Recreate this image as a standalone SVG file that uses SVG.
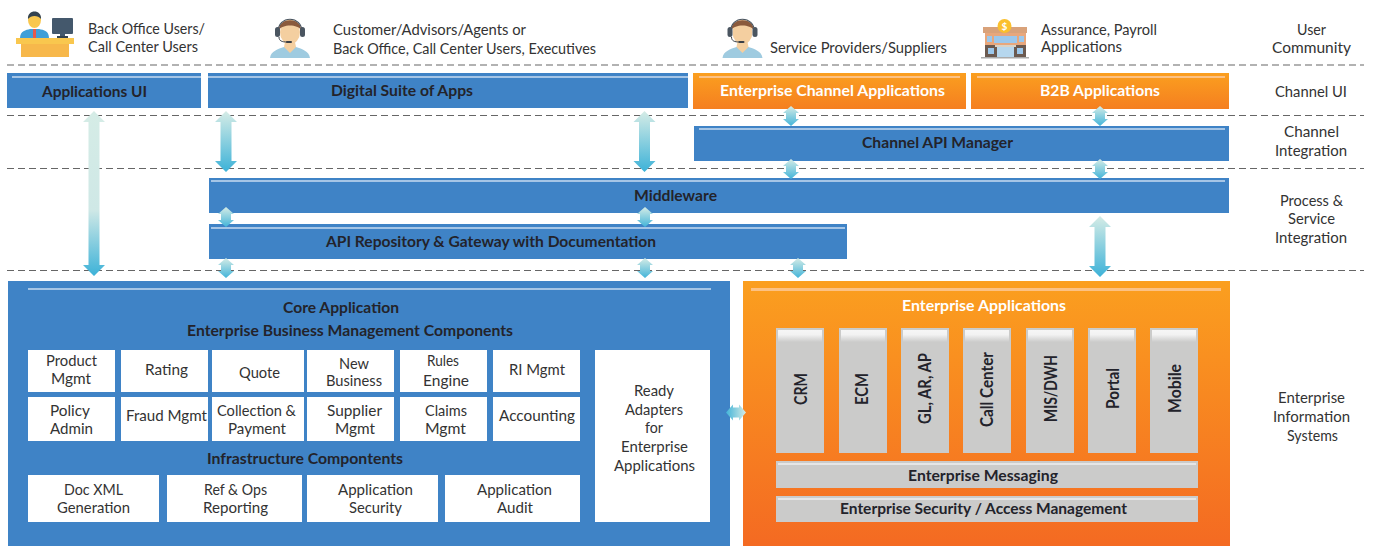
<svg xmlns="http://www.w3.org/2000/svg" width="1374" height="555" viewBox="0 0 1374 555">
<style>
text{font-family:Lato,"Open Sans","Liberation Sans",sans-serif}
.r{font-size:15px;fill:#333}
.b{font-size:15px;font-weight:700;fill:#23232b}
.v{font-size:16.5px;font-weight:700;fill:#23232b}
.w{font-size:15px;font-weight:700;fill:#fff}
.blue{fill:#3f83c6}
.org{fill:url(#og)}
.orgb{fill:url(#ogb)}
.hb{fill:#a5c5e6}
.ho{fill:#fcc183}
.box{fill:#fff}
.gray{fill:#cbcbca}
.gh{fill:url(#gh)}
.dash{stroke:#666;stroke-width:1.2;stroke-dasharray:7 4;fill:none}
.big{fill:url(#ab)}
.mid{fill:url(#am)}
.sm{fill:url(#as)}
</style>
<defs>
<linearGradient id="og" x1="0" y1="0" x2="0" y2="1"><stop offset="0" stop-color="#fb9f1f"/><stop offset="1" stop-color="#f57f20"/></linearGradient>
<linearGradient id="ogb" x1="0" y1="0" x2="0" y2="1"><stop offset="0" stop-color="#fb9f1f"/><stop offset="1" stop-color="#f46a22"/></linearGradient>
<linearGradient id="gh" x1="0" y1="0" x2="0" y2="1"><stop offset="0" stop-color="#f6f6f6"/><stop offset="0.4" stop-color="#f2f2f2"/><stop offset="1" stop-color="#cbcbca"/></linearGradient>
<linearGradient id="ab" x1="0" y1="0" x2="0" y2="1"><stop offset="0" stop-color="#d5ece6"/><stop offset="0.6" stop-color="#cfe8e6"/><stop offset="1" stop-color="#3db2d8"/></linearGradient>
<linearGradient id="am" x1="0" y1="0" x2="0" y2="1"><stop offset="0" stop-color="#d5ece6"/><stop offset="1" stop-color="#3db2d8"/></linearGradient>
<linearGradient id="as" x1="0" y1="0" x2="0" y2="1"><stop offset="0" stop-color="#d5ece6"/><stop offset="1" stop-color="#42b4d9"/></linearGradient>
<linearGradient id="ash" x1="0" y1="0" x2="1" y2="0"><stop offset="0" stop-color="#42b4d9"/><stop offset="1" stop-color="#d5ece6"/></linearGradient>
<g id="agent">
<path d="M-20 20 C-19 13 -12 11 -6 9 L6 9 C12 11 19 13 20 20 Z" fill="#9fcbe0"/>
<path d="M-6 9 L0 15 L6 9 L5 4 L-5 4 Z" fill="#f4cfa0"/>
<ellipse cx="0" cy="-6" rx="10" ry="12.5" fill="#f4cfa0"/>
<path d="M-11 -8 C-12 -21 12 -21 11 -8 C8 -14 -8 -14 -11 -8 Z" fill="#8a5a3c"/>
<path d="M-12 -6 C-12 -23 12 -23 12 -6" fill="none" stroke="#4a5560" stroke-width="1.2"/>
<rect x="-15" y="-11" width="5" height="10" rx="2.500" fill="#4a5560"/>
<rect x="10" y="-11" width="5" height="10" rx="2.500" fill="#4a5560"/>
<path d="M-11 -1 C-11 3 -8 4 -3 4" fill="none" stroke="#3a3f46" stroke-width="1"/>
<rect x="-4" y="3" width="6" height="2" rx="1" fill="#3a3f46"/>
</g>
</defs>

<g id="dividers">
<line class="dash" x1="7" y1="65" x2="1364" y2="65"/>
<line class="dash" x1="7" y1="115.500" x2="1364" y2="115.500"/>
<line class="dash" x1="7" y1="168.500" x2="1364" y2="168.500"/>
<line class="dash" x1="7" y1="270.500" x2="1364" y2="270.500"/>
</g>

<g id="user-back-office">
<rect x="52" y="18" width="21" height="16" rx="1" fill="#44586c"/>
<rect x="60" y="34" width="5" height="2" fill="#44586c"/><rect x="57" y="36" width="11" height="2" fill="#33424f"/>
<path d="M20 38 C20 31 26 30 30 29 L39 29 C44 30 49 31 49 38 Z" fill="#3f9fd8"/>
<rect x="33" y="29" width="3" height="9" fill="#e8584a"/>
<ellipse cx="34.500" cy="20" rx="6.500" ry="8" fill="#f9c74e"/>
<path d="M28 19 C27 9 42 9 41 19 C38 15 31 15 28 19 Z" fill="#33424f"/>
<rect x="16" y="38" width="58" height="6" fill="#f9c74e"/>
<rect x="21" y="44" width="48" height="13" fill="#f7b84b"/>
<text class="r" x="88" y="34" textLength="117" lengthAdjust="spacingAndGlyphs">Back Office Users/</text>
<text class="r" x="88" y="52" textLength="110" lengthAdjust="spacingAndGlyphs">Call Center Users</text>
</g>
<g id="user-customer">
<use href="#agent" x="290" y="38"/>
<text class="r" x="333" y="35" textLength="193" lengthAdjust="spacingAndGlyphs">Customer/Advisors/Agents or</text>
<text class="r" x="333" y="54" textLength="263" lengthAdjust="spacingAndGlyphs">Back Office, Call Center Users, Executives</text>
</g>
<g id="user-service">
<use href="#agent" x="742.500" y="38"/>
<text class="r" x="770" y="53" textLength="177" lengthAdjust="spacingAndGlyphs">Service Providers/Suppliers</text>
</g>
<g id="user-assurance">
<rect x="985" y="32" width="41" height="25" fill="#e8a77c"/>
<rect x="983" y="27" width="44" height="6" fill="#d9a27a"/>
<rect x="987" y="36" width="5" height="6" fill="#9cc8ec"/><rect x="1019" y="36" width="5" height="6" fill="#9cc8ec"/>
<rect x="994" y="36" width="23" height="7" fill="#9cc8ec"/>
<rect x="985" y="45" width="41" height="12" fill="#6b5a50"/>
<rect x="988" y="48" width="6" height="6" fill="#9cc8ec"/><rect x="1017" y="48" width="6" height="6" fill="#9cc8ec"/>
<rect x="995" y="45" width="21" height="2" fill="#d9d3c7"/>
<rect x="997" y="47" width="17" height="10" fill="#b6d7ee"/>
<rect x="981" y="57" width="48" height="1.500" fill="#aaa"/>
<circle cx="1004.500" cy="26" r="7" fill="#fbc02d"/>
<text x="1004.500" y="29.500" text-anchor="middle" style="font-size:10px;font-weight:700;fill:#fff">$</text>
<text class="r" x="1041" y="35" textLength="116" lengthAdjust="spacingAndGlyphs">Assurance, Payroll</text>
<text class="r" x="1041" y="52" textLength="81" lengthAdjust="spacingAndGlyphs">Applications</text>
</g>

<g id="layer-labels">
<text class="r" x="1297" y="35" textLength="29" lengthAdjust="spacingAndGlyphs">User</text>
<text class="r" x="1272" y="53" textLength="79" lengthAdjust="spacingAndGlyphs">Community</text>
<text class="r" x="1275" y="97" textLength="72" lengthAdjust="spacingAndGlyphs">Channel UI</text>
<text class="r" x="1284" y="137" textLength="55" lengthAdjust="spacingAndGlyphs">Channel</text>
<text class="r" x="1275" y="156" textLength="72" lengthAdjust="spacingAndGlyphs">Integration</text>
<text class="r" x="1280" y="206" textLength="63" lengthAdjust="spacingAndGlyphs">Process &amp;</text>
<text class="r" x="1288" y="224" textLength="47" lengthAdjust="spacingAndGlyphs">Service</text>
<text class="r" x="1275" y="243" textLength="72" lengthAdjust="spacingAndGlyphs">Integration</text>
<text class="r" x="1278" y="403" textLength="67" lengthAdjust="spacingAndGlyphs">Enterprise</text>
<text class="r" x="1273" y="422" textLength="77" lengthAdjust="spacingAndGlyphs">Information</text>
<text class="r" x="1287" y="441" textLength="51" lengthAdjust="spacingAndGlyphs">Systems</text>
</g>

<g id="applications-ui">
<rect class="blue" x="7" y="73" width="194" height="35"/><rect class="hb" x="12" y="76" width="189" height="2"/>
<text class="b" x="42" y="97" textLength="105" lengthAdjust="spacingAndGlyphs">Applications UI</text>
</g>
<g id="digital-suite">
<rect class="blue" x="208" y="73" width="480" height="35"/><rect class="hb" x="208" y="76" width="480" height="2"/>
<text class="b" x="331" y="96" textLength="142" lengthAdjust="spacingAndGlyphs">Digital Suite of Apps</text>
</g>
<g id="enterprise-channel">
<rect class="org" x="693" y="73" width="273" height="36"/><rect class="ho" x="699" y="76" width="261" height="2"/>
<text class="w" x="720" y="96" textLength="225" lengthAdjust="spacingAndGlyphs">Enterprise Channel Applications</text>
</g>
<g id="b2b">
<rect class="org" x="971" y="73" width="258" height="36"/><rect class="ho" x="977" y="76" width="248" height="2"/>
<text class="w" x="1040" y="96" textLength="120" lengthAdjust="spacingAndGlyphs">B2B Applications</text>
</g>
<g id="channel-api">
<rect class="blue" x="694" y="126" width="535" height="35"/><rect class="hb" x="699" y="128" width="526" height="2"/>
<text class="b" x="862" y="148" textLength="151" lengthAdjust="spacingAndGlyphs">Channel API Manager</text>
</g>
<g id="middleware">
<rect class="blue" x="209" y="178" width="1020" height="35"/><rect class="hb" x="211" y="180" width="1014" height="2"/>
<text class="b" x="634" y="201" textLength="83" lengthAdjust="spacingAndGlyphs">Middleware</text>
</g>
<g id="api-repository">
<rect class="blue" x="209" y="224" width="638" height="35"/><rect class="hb" x="211" y="227" width="634" height="2"/>
<text class="b" x="326" y="247" textLength="330" lengthAdjust="spacingAndGlyphs">API Repository &amp; Gateway with Documentation</text>
</g>

<g id="core-application">
<rect class="blue" x="8" y="281" width="722" height="265"/>
<rect class="hb" x="28" y="288" width="683" height="2"/>
<text class="b" x="283" y="313" textLength="116" lengthAdjust="spacingAndGlyphs">Core Application</text>
<text class="b" x="187" y="336" textLength="326" lengthAdjust="spacingAndGlyphs">Enterprise Business Management Components</text>
<text class="b" x="207" y="464" textLength="196" lengthAdjust="spacingAndGlyphs">Infrastructure Compontents</text>
</g>
<g id="product-mgmt"><rect class="box" x="28" y="350" width="87" height="42"/>
<text class="r" x="46" y="366" textLength="51" lengthAdjust="spacingAndGlyphs">Product</text><text class="r" x="51" y="384" textLength="40" lengthAdjust="spacingAndGlyphs">Mgmt</text></g>
<g id="rating"><rect class="box" x="121" y="350" width="87" height="42"/>
<text class="r" x="145" y="375" textLength="43" lengthAdjust="spacingAndGlyphs">Rating</text></g>
<g id="quote"><rect class="box" x="212" y="350" width="92" height="42"/>
<text class="r" x="239" y="378" textLength="41" lengthAdjust="spacingAndGlyphs">Quote</text></g>
<g id="new-business"><rect class="box" x="307" y="350" width="87" height="42"/>
<text class="r" x="339" y="369" textLength="30" lengthAdjust="spacingAndGlyphs">New</text><text class="r" x="326" y="386" textLength="56" lengthAdjust="spacingAndGlyphs">Business</text></g>
<g id="rules-engine"><rect class="box" x="400" y="350" width="87" height="42"/>
<text class="r" x="427" y="366" textLength="32" lengthAdjust="spacingAndGlyphs">Rules</text><text class="r" x="423" y="386" textLength="46" lengthAdjust="spacingAndGlyphs">Engine</text></g>
<g id="ri-mgmt"><rect class="box" x="493" y="350" width="87" height="42"/>
<text class="r" x="509" y="375" textLength="56" lengthAdjust="spacingAndGlyphs">RI Mgmt</text></g>
<g id="policy-admin"><rect class="box" x="28" y="397" width="87" height="44"/>
<text class="r" x="50" y="416" textLength="40" lengthAdjust="spacingAndGlyphs">Policy</text><text class="r" x="50" y="434" textLength="43" lengthAdjust="spacingAndGlyphs">Admin</text></g>
<g id="fraud-mgmt"><rect class="box" x="121" y="397" width="87" height="44"/>
<text class="r" x="126" y="421" textLength="81" lengthAdjust="spacingAndGlyphs">Fraud Mgmt</text></g>
<g id="collection-payment"><rect class="box" x="212" y="397" width="92" height="44"/>
<text class="r" x="217" y="416" textLength="79" lengthAdjust="spacingAndGlyphs">Collection &amp;</text><text class="r" x="228" y="434" textLength="58" lengthAdjust="spacingAndGlyphs">Payment</text></g>
<g id="supplier-mgmt"><rect class="box" x="307" y="397" width="87" height="44"/>
<text class="r" x="327" y="416" textLength="55" lengthAdjust="spacingAndGlyphs">Supplier</text><text class="r" x="335" y="434" textLength="40" lengthAdjust="spacingAndGlyphs">Mgmt</text></g>
<g id="claims-mgmt"><rect class="box" x="400" y="397" width="87" height="44"/>
<text class="r" x="425" y="416" textLength="42" lengthAdjust="spacingAndGlyphs">Claims</text><text class="r" x="425" y="434" textLength="41" lengthAdjust="spacingAndGlyphs">Mgmt</text></g>
<g id="accounting"><rect class="box" x="493" y="397" width="87" height="44"/>
<text class="r" x="499" y="421" textLength="76" lengthAdjust="spacingAndGlyphs">Accounting</text></g>
<g id="doc-xml"><rect class="box" x="28" y="475" width="131" height="47"/>
<text class="r" x="64" y="495" textLength="59" lengthAdjust="spacingAndGlyphs">Doc XML</text><text class="r" x="57" y="513" textLength="73" lengthAdjust="spacingAndGlyphs">Generation</text></g>
<g id="ref-ops"><rect class="box" x="167" y="475" width="135" height="47"/>
<text class="r" x="204" y="495" textLength="63" lengthAdjust="spacingAndGlyphs">Ref &amp; Ops</text><text class="r" x="203" y="513" textLength="65" lengthAdjust="spacingAndGlyphs">Reporting</text></g>
<g id="app-security"><rect class="box" x="307" y="475" width="131" height="47"/>
<text class="r" x="338" y="495" textLength="75" lengthAdjust="spacingAndGlyphs">Application</text><text class="r" x="349" y="513" textLength="53" lengthAdjust="spacingAndGlyphs">Security</text></g>
<g id="app-audit"><rect class="box" x="445" y="475" width="135" height="47"/>
<text class="r" x="477" y="495" textLength="75" lengthAdjust="spacingAndGlyphs">Application</text><text class="r" x="497" y="513" textLength="36" lengthAdjust="spacingAndGlyphs">Audit</text></g>
<g id="ready-adapters"><rect class="box" x="595" y="350" width="115" height="172"/>
<text class="r" x="634" y="396" textLength="40" lengthAdjust="spacingAndGlyphs">Ready</text>
<text class="r" x="625" y="415" textLength="58" lengthAdjust="spacingAndGlyphs">Adapters</text>
<text class="r" x="645" y="433" textLength="18" lengthAdjust="spacingAndGlyphs">for</text>
<text class="r" x="621" y="452" textLength="67" lengthAdjust="spacingAndGlyphs">Enterprise</text>
<text class="r" x="614" y="471" textLength="81" lengthAdjust="spacingAndGlyphs">Applications</text></g>

<g id="enterprise-applications">
<rect class="orgb" x="743" y="281" width="487" height="265"/>
<rect class="ho" x="751" y="288" width="470" height="3"/>
<text class="w" x="902" y="311" textLength="164" lengthAdjust="spacingAndGlyphs">Enterprise Applications</text>
</g>
<g id="crm"><rect class="gray" x="776" y="328" width="48" height="125"/><rect class="gh" x="778" y="330" width="44" height="12"/>
<text class="v" transform="translate(807 405) rotate(-90)" textLength="32" lengthAdjust="spacingAndGlyphs">CRM</text></g>
<g id="ecm"><rect class="gray" x="839" y="328" width="48" height="125"/><rect class="gh" x="841" y="330" width="44" height="12"/>
<text class="v" transform="translate(868 405) rotate(-90)" textLength="32" lengthAdjust="spacingAndGlyphs">ECM</text></g>
<g id="gl-ar-ap"><rect class="gray" x="901" y="328" width="48" height="125"/><rect class="gh" x="903" y="330" width="44" height="12"/>
<text class="v" transform="translate(930.500 424) rotate(-90)" textLength="71" lengthAdjust="spacingAndGlyphs">GL, AR, AP</text></g>
<g id="call-center"><rect class="gray" x="963" y="328" width="48" height="125"/><rect class="gh" x="965" y="330" width="44" height="12"/>
<text class="v" transform="translate(993 427) rotate(-90)" textLength="75" lengthAdjust="spacingAndGlyphs">Call Center</text></g>
<g id="mis-dwh"><rect class="gray" x="1026" y="328" width="48" height="125"/><rect class="gh" x="1028" y="330" width="44" height="12"/>
<text class="v" transform="translate(1057 422) rotate(-90)" textLength="67" lengthAdjust="spacingAndGlyphs">MIS/DWH</text></g>
<g id="portal"><rect class="gray" x="1088" y="328" width="48" height="125"/><rect class="gh" x="1090" y="330" width="44" height="12"/>
<text class="v" transform="translate(1119 409) rotate(-90)" textLength="41" lengthAdjust="spacingAndGlyphs">Portal</text></g>
<g id="mobile"><rect class="gray" x="1150" y="328" width="48" height="125"/><rect class="gh" x="1152" y="330" width="44" height="12"/>
<text class="v" transform="translate(1181 413) rotate(-90)" textLength="49" lengthAdjust="spacingAndGlyphs">Mobile</text></g>
<g id="enterprise-messaging"><rect class="gray" x="776" y="461" width="422" height="27"/><rect fill="#e6e6e6" x="778" y="463" width="418" height="2"/>
<text class="b" x="908" y="481" textLength="150" lengthAdjust="spacingAndGlyphs">Enterprise Messaging</text></g>
<g id="enterprise-security"><rect class="gray" x="776" y="496" width="422" height="26"/><rect fill="#e6e6e6" x="778" y="498" width="418" height="2"/>
<text class="b" x="840" y="514" textLength="287" lengthAdjust="spacingAndGlyphs">Enterprise Security / Access Management</text></g>

<g id="connectors">
<path class="big" d="M94 111 L105 122 L99.500 122 L99.500 265 L105 265 L94 276 L83 265 L88.500 265 L88.500 122 L83 122 Z"/>
<path class="mid" d="M226 111 L237 122 L231.500 122 L231.500 161 L237 161 L226 172 L215 161 L220.500 161 L220.500 122 L215 122 Z"/>
<path class="mid" d="M644.500 111 L655.500 122 L650 122 L650 161 L655.500 161 L644.500 172 L633.500 161 L639 161 L639 122 L633.500 122 Z"/>
<path class="mid" d="M1100 216 L1111 227 L1105.500 227 L1105.500 266 L1111 266 L1100 277 L1089 266 L1094.500 266 L1094.500 227 L1089 227 Z"/>
<path class="sm" d="M791 106 L799 113 L796 113 L796 119 L799 119 L791 126 L783 119 L786 119 L786 113 L783 113 Z"/>
<path class="sm" d="M1100 106 L1108 113 L1105 113 L1105 119 L1108 119 L1100 126 L1092 119 L1095 119 L1095 113 L1092 113 Z"/>
<path class="sm" d="M791 159 L799 166 L796 166 L796 172 L799 172 L791 179 L783 172 L786 172 L786 166 L783 166 Z"/>
<path class="sm" d="M1100 159 L1108 166 L1105 166 L1105 172 L1108 172 L1100 179 L1092 172 L1095 172 L1095 166 L1092 166 Z"/>
<path class="sm" d="M226 207 L234 214 L231 214 L231 220 L234 220 L226 227 L218 220 L221 220 L221 214 L218 214 Z"/>
<path class="sm" d="M645 207 L653 214 L650 214 L650 220 L653 220 L645 227 L637 220 L640 220 L640 214 L637 214 Z"/>
<path class="sm" d="M226 258 L234 265 L231 265 L231 271 L234 271 L226 278 L218 271 L221 271 L221 265 L218 265 Z"/>
<path class="sm" d="M645 258 L653 265 L650 265 L650 271 L653 271 L645 278 L637 271 L640 271 L640 265 L637 265 Z"/>
<path class="sm" d="M798 258 L806 265 L803 265 L803 271 L806 271 L798 278 L790 271 L793 271 L793 265 L790 265 Z"/>
<path fill="url(#ash)" d="M726 412.500 L733 404.500 L733 407.500 L739 407.500 L739 404.500 L746 412.500 L739 420.500 L739 417.500 L733 417.500 L733 420.500 Z"/>
</g>
</svg>
